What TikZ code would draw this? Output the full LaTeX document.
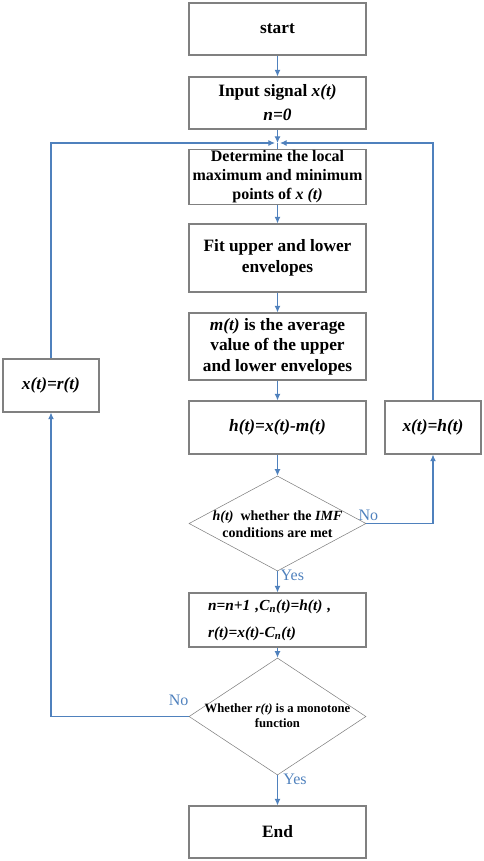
\documentclass[tikz,border=0pt]{standalone}
\usepackage{fontspec}
\setmainfont{Liberation Serif}
\usetikzlibrary{shapes.geometric,arrows.meta}

\definecolor{flowblue}{RGB}{79,129,189}
\definecolor{boxgray}{RGB}{128,128,128}

\begin{document}
\begin{tikzpicture}[x=0.75pt,y=-0.75pt,
    block/.style={draw=boxgray,thick,minimum width=132.75pt,align=center,inner sep=1pt,
      font=\fontsize{13}{15.75}\selectfont\bfseries},
    sidebox/.style={draw=boxgray,thick,minimum width=72pt,minimum height=39.75pt,
      font=\fontsize{13}{16}\selectfont\bfseries},
    decide/.style={draw=boxgray,diamond,inner sep=0pt,minimum width=132.75pt},
    flow/.style={draw=flowblue,thick,-{Latex[length=5pt,width=4.5pt]}},
    wire/.style={draw=flowblue,thick},
    answer/.style={text=flowblue,font=\fontsize{12}{14}\selectfont,inner sep=0pt}]
  \useasboundingbox (0,0) rectangle (484,861);
  % main column
  \node[block,minimum height=39pt] (start) at (277.5,29) {start};
  \node[block,minimum height=39pt,font=\fontsize{13}{18}\selectfont\bfseries] (input) at (277.5,103)
    {Input signal \textit{x(t)}\\\textit{n=0}};
  \coordinate (merge) at (277.5,143);
  \coordinate (mergeL) at (275,143);
  \coordinate (mergeR) at (280,143);
  \node[block,minimum height=39pt,font=\fontsize{12}{14.25}\selectfont\bfseries] (extrema) at (277.5,177)
    {Determine the local\\maximum and minimum\\points of \textit{x (t)}};
  \node[block,minimum height=51pt] (envelope) at (277.5,258) {Fit upper and lower\\envelopes};
  \node[block,minimum height=50.25pt,font=\fontsize{13}{15.4}\selectfont\bfseries] (mean) at (277.5,346.5)
    {\textit{m(t)} is the average\\value of the upper\\and lower envelopes};
  \node[block,minimum height=39.75pt] (detail) at (277.5,427.5) {\textit{h(t)=x(t)-m(t)}};
  \node[decide,minimum height=71.25pt] (imf) at (277.5,523.5) {};
  \node[font=\fontsize{10.5}{12.5}\selectfont\bfseries,align=center] (imftext) at (277.5,524)
    {\textit{h(t)}\ \ whether the \textit{IMF}\\conditions are met};
  \node[block,minimum height=40.5pt,align=left,text width=104pt,
    font=\fontsize{11.5}{20}\selectfont\bfseries] (update) at (277.5,620)
    {\textit{n=n+1 ,C\textsubscript{n}(t)=h(t) ,}\\\textit{r(t)=x(t)-C\textsubscript{n}(t)}};
  \node[decide,minimum height=87.75pt] (mono) at (277.5,716.5) {};
  \node[font=\fontsize{9.5}{11.25}\selectfont\bfseries,align=center] (monotext) at (277.5,716)
    {Whether \textit{r(t)} is a monotone\\function};
  \node[block,minimum height=39pt] (stop) at (277.5,832) {End};
  % side boxes
  \node[sidebox] (resid) at (51,385.5) {\textit{x(t)=r(t)}};
  \node[sidebox] (sift) at (433,427.5) {\textit{x(t)=h(t)}};

  % connectors
  \draw[flow] (start) -- (input);
  \draw[flow] (input) -- (merge);
  \draw[wire] (merge) -- (extrema);
  \draw[flow] (extrema) -- (envelope);
  \draw[flow] (envelope) -- (mean);
  \draw[flow] (mean) -- (detail);
  \draw[flow] (detail) -- (imf);
  \draw[flow] (imf) -- (update) node[answer,pos=0.2,right=2pt] {Yes};
  \draw[flow] (imf.east) -| (sift.south);
  \node[answer,anchor=south west] at (imf.east) [xshift=-6pt,yshift=2pt] {No};
  \draw[flow] (sift.north) |- (mergeR);
  \draw[flow] (update) -- (mono);
  \draw[flow] (mono) -- (stop) node[answer,pos=0.12,right=4pt] {Yes};
  \draw[flow] (mono.west) -| (resid.south);
  \node[answer,anchor=south east] at (mono.west) [yshift=8pt] {No};
  \draw[flow] (resid.north) |- (mergeL);
\end{tikzpicture}
\end{document}
